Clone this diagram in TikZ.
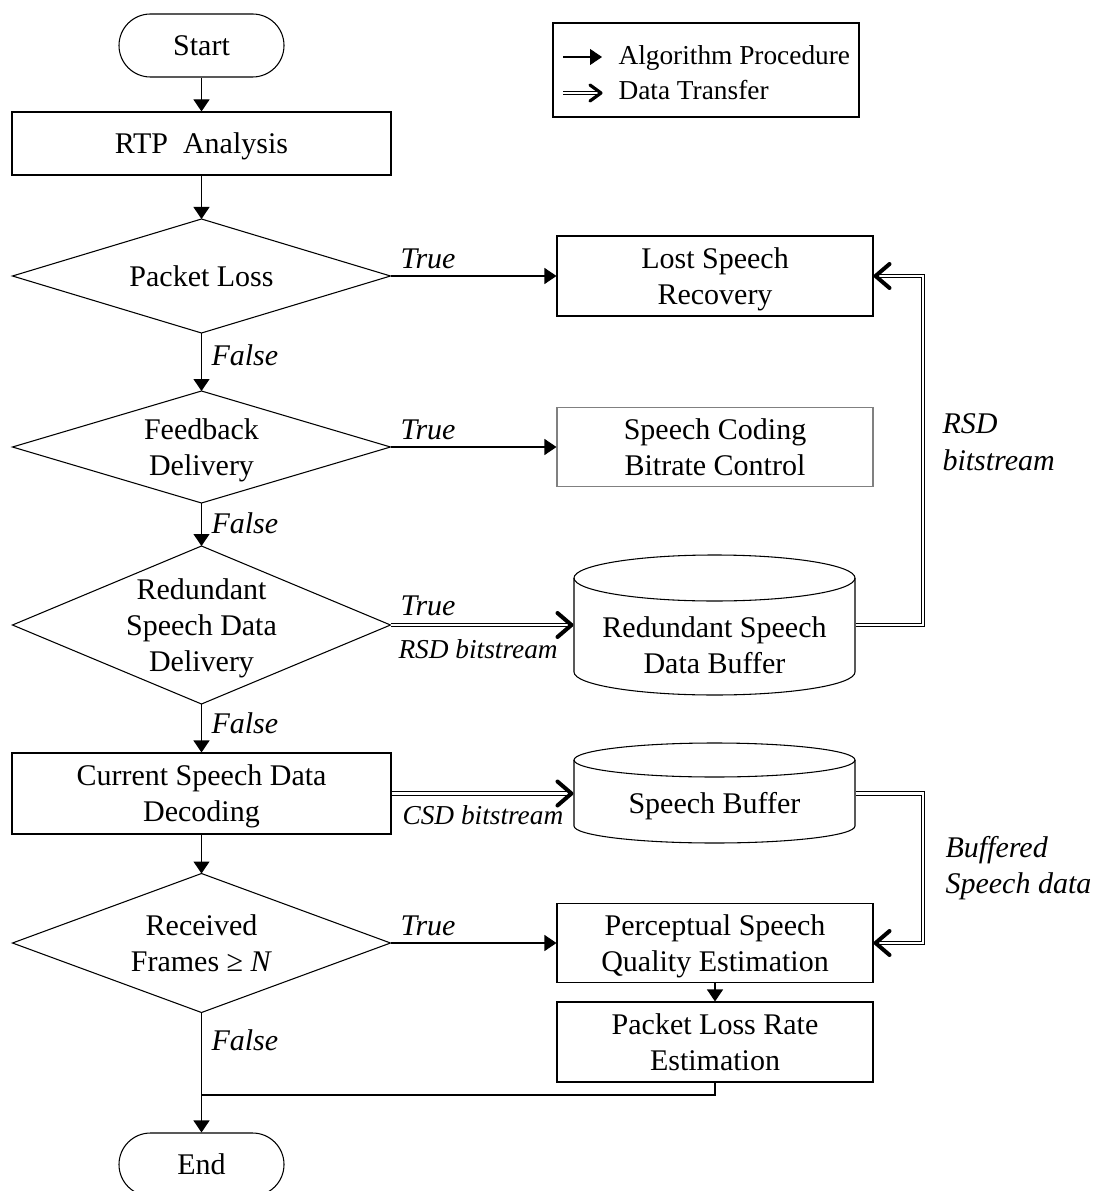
\documentclass[tikz,border=0pt]{standalone}
\usepackage{fontspec}
\setmainfont{Liberation Serif}
\usetikzlibrary{arrows.meta,shapes.geometric,calc}
\newcommand\bigf{\fontsize{22.5}{27}\selectfont}
\newcommand\smf{\fontsize{20.5}{25}\selectfont}
\begin{document}
\begin{tikzpicture}[x=0.75pt,y=0.75pt, font=\bigf, line width=0.8pt,
 proc/.style={draw, rectangle, align=center, inner sep=0pt, text depth=0pt},
 term/.style={draw, rectangle, rounded corners=23.6pt, minimum width=123.75pt, minimum height=47.25pt, inner sep=0pt, text depth=0pt},
 dec/.style={draw, diamond, inner sep=0pt, outer sep=0pt},
 txt/.style={align=center, inner sep=0pt, text depth=0pt},
 alg/.style={-{Triangle[length=9pt,width=12pt]}},
 dat/.style={double, double distance=2pt, line width=0.7pt},
 chev/.style={line width=3pt, line cap=round, line join=round},
 lab/.style={font=\bigf\itshape, inner sep=0pt, anchor=base west},
 slab/.style={font=\smf\itshape, inner sep=0pt, anchor=base west},
 legt/.style={font=\smf, inner sep=0pt, anchor=base west}]
\useasboundingbox (0,0) rectangle (1096,-1191);

% main column
\node[term] (start) at (201.5,-45.5) {Start};
\node[proc, minimum width=284.25pt, minimum height=47.25pt] (rtp) at (201.5,-143.5) {RTP\ \ Analysis};
\node[dec, minimum width=283.5pt, minimum height=85.5pt] (pl) at (201.5,-276) {};
\node[txt] (plt) at (pl) {Packet Loss};
\node[dec, minimum width=283.5pt, minimum height=84pt] (fb) at (201.5,-447) {};
\node[txt] (fbt) at (fb) {Feedback\\Delivery};
\node[dec, minimum width=283.5pt, minimum height=118.5pt] (rd) at (201.5,-625) {};
\node[txt] (rdt) at (rd) {Redundant\\Speech Data\\Delivery};
\node[proc, minimum width=284.25pt, minimum height=60.75pt] (csd) at (201.5,-793.5) {Current Speech Data\\Decoding};
\node[dec, minimum width=283.5pt, minimum height=104.25pt] (rf) at (201.5,-943) {};
\node[txt] (rft) at (rf) {Received\\Frames ≥ \textit{N}};
\node[term] (end) at (201.5,-1164.5) {End};

% right column
\node[proc, minimum width=237pt, minimum height=60pt] (lsr) at (715,-276) {Lost Speech\\Recovery};
\node[proc, draw=black!50, minimum width=237pt, minimum height=59.25pt] (scb) at (715,-447) {Speech Coding\\Bitrate Control};
\node[inner sep=0pt, minimum width=210.75pt, minimum height=104.25pt] (rsdb) at (714.5,-625) {};
\draw (574,-578) -- (574,-672) arc[start angle=180, end angle=360, x radius=140.5, y radius=23] -- (855,-578);
\draw (714.5,-578) ellipse [x radius=140.5, y radius=23];
\node[txt] (rsdbt) at (714.5,-645) {Redundant Speech\\Data Buffer};
\node[inner sep=0pt, minimum width=210.75pt, minimum height=75pt] (sb) at (714.5,-793.5) {};
\draw (574,-760) -- (574,-826) arc[start angle=180, end angle=360, x radius=140.5, y radius=17] -- (855,-760);
\draw (714.5,-760) ellipse [x radius=140.5, y radius=17];
\node[txt] (sbt) at (714.5,-803) {Speech Buffer};
\node[proc, minimum width=237pt, minimum height=59.25pt] (psq) at (715,-943) {Perceptual Speech\\Quality Estimation};
\node[proc, minimum width=237pt, minimum height=60pt] (plr) at (715,-1042) {Packet Loss Rate\\Estimation};

% legend
\node[draw, minimum width=229.5pt, minimum height=70.5pt, inner sep=0pt] (leg) at (706,-70) {};
\coordinate (la1) at (563,-57); \coordinate (la2) at (602,-57);
\draw[alg] (la1) -- (la2);
\node[legt] (lt1) at (618,-65) {Algorithm Procedure};
\coordinate (lb1) at (563,-93); \coordinate (lb2) at (602,-93);
\draw[dat] (lb1) -- ([xshift=-1.5pt]lb2);
\draw[chev, line width=2.4pt] ($(lb2)+(-12,8)$) -- ($(lb2)+(-1,0)$) -- ($(lb2)+(-12,-8)$);
\node[legt] (lt2) at (618,-100) {Data Transfer};

% connectors
\coordinate (rx) at (923,0);
\coordinate (mg) at (201.5,-1095);
\draw[alg] (start) -- (rtp);
\draw[alg] (rtp) -- (pl.north);
\draw[alg] (pl.east) -- (lsr.west);
\node[lab] (t1) at (400,-268) {True};
\draw[alg] (pl.south) -- (fb.north);
\node[lab] (f1) at (211,-365) {False};
\draw[alg] (fb.east) -- (scb.west);
\node[lab] (t2) at (400,-439) {True};
\draw[alg] (fb.south) -- (rd.north);
\node[lab] (f2) at (211,-533) {False};
\draw[dat] (rd.east) -- ([xshift=-1.5pt]rsdb.west);
\draw[chev] ($(rsdb.west)+(-16,12)$) -- ($(rsdb.west)+(-2,0)$) -- ($(rsdb.west)+(-16,-12)$);
\node[lab] (t3) at (400,-615) {True};
\node[slab] (b1) at (398,-658) {RSD bitstream};
\draw[dat] (rsdb.east) -| (rx |- lsr.east) -- ([xshift=1.5pt]lsr.east);
\draw[chev] ($(lsr.east)+(16,12)$) -- ($(lsr.east)+(2,0)$) -- ($(lsr.east)+(16,-12)$);
\node[lab] (b2) at (942,-433) {RSD};
\node[lab] (b3) at (942,-470) {bitstream};
\draw[alg] (rd.south) -- (csd.north);
\node[lab] (f3) at (211,-733) {False};
\draw[dat] (csd.east) -- ([xshift=-1.5pt]sb.west);
\draw[chev] ($(sb.west)+(-16,12)$) -- ($(sb.west)+(-2,0)$) -- ($(sb.west)+(-16,-12)$);
\node[slab] (b4) at (402,-824) {CSD bitstream};
\draw[dat] (sb.east) -| (rx |- psq.east) -- ([xshift=1.5pt]psq.east);
\draw[chev] ($(psq.east)+(16,12)$) -- ($(psq.east)+(2,0)$) -- ($(psq.east)+(16,-12)$);
\node[lab] (b5) at (945,-857) {Buffered};
\node[lab] (b6) at (945,-893) {Speech data};
\draw[alg] (csd.south) -- (rf.north);
\draw[alg] (rf.east) -- (psq.west);
\node[lab] (t4) at (400,-935) {True};
\draw[alg] (psq.south) -- (plr.north);
\draw (plr.south) |- (mg);
\draw[alg] (rf.south) -- (end.north);
\node[lab] (f4) at (211,-1050) {False};
\end{tikzpicture}
\end{document}
